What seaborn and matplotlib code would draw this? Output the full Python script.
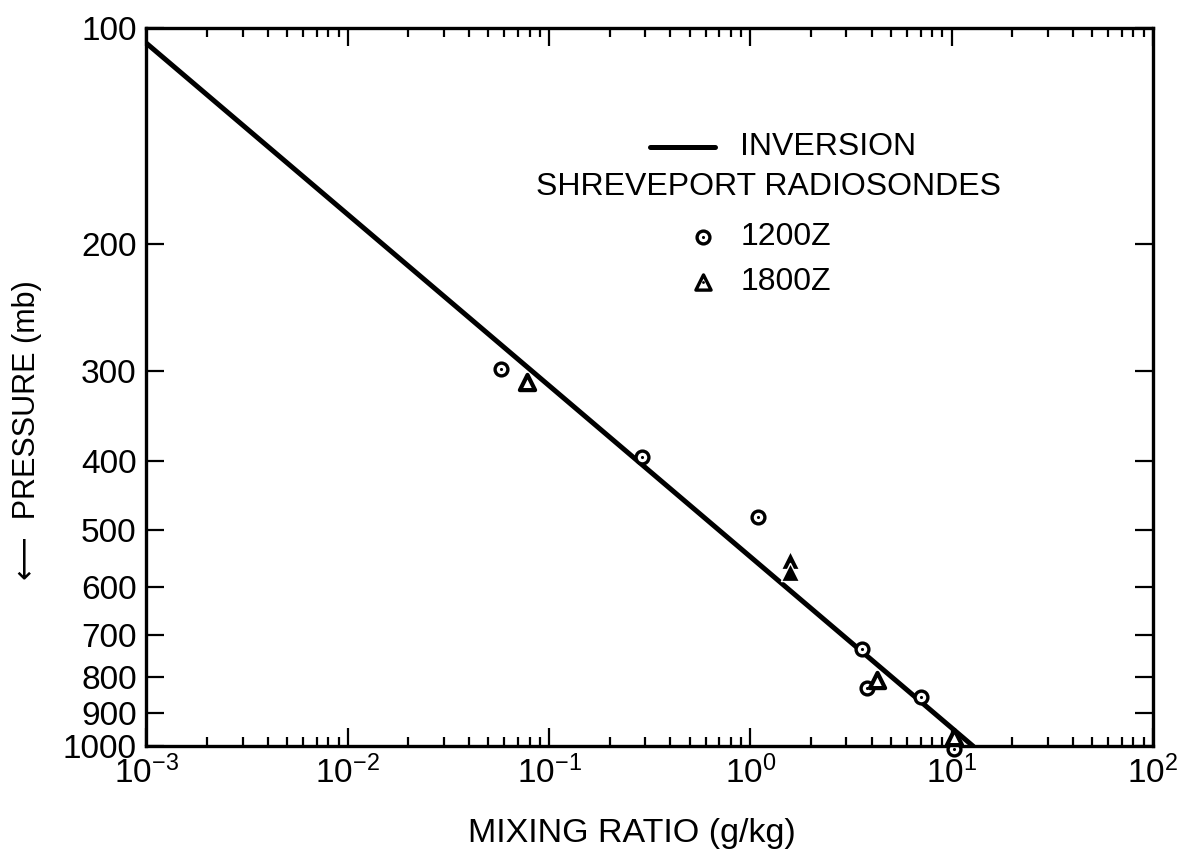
import matplotlib
matplotlib.use("Agg")
import matplotlib.pyplot as plt
import seaborn as sns
import numpy as np
import pandas as pd
from matplotlib.ticker import FixedLocator, NullFormatter, LogLocator

# ---- data ----
inv_x = [1e-3, 12.8]          # inversion line (g/kg)
inv_p = [105, 1000]           # mb

r1200_x = [0.058, 0.29, 1.09, 3.6, 3.8, 7.0, 10.3]
r1200_p = [298, 396, 479, 731, 830, 855, 1010]

r1800_open_x = [0.078, 4.26, 10.3]
r1800_open_p = [311, 809, 972]
r1800_solid_x = [1.58, 1.58]
r1800_solid_p = [550, 571]

y_ticks = [100, 200, 300, 400, 500, 600, 700, 800, 900, 1000]
y_ticklabels = ["100", "200", "300", "400", "500", "600", "700", "800", "900", "1000"]
x_ticks = [1e-3, 1e-2, 1e-1, 1e0, 1e1, 1e2]
x_ticklabels = ["$10^{-3}$", "$10^{-2}$", "$10^{-1}$", "$10^{0}$", "$10^{1}$", "$10^{2}$"]

sns.set_theme(style="ticks")
FAM = ["Liberation Sans", "DejaVu Sans"]
plt.rcParams["font.family"] = FAM
plt.rcParams["mathtext.default"] = "regular"
for k in ["text.color", "axes.labelcolor", "xtick.color", "ytick.color",
          "axes.edgecolor"]:
    plt.rcParams[k] = "black"

fig = plt.figure(figsize=(11.85, 8.51), dpi=100)
ax = fig.add_axes([0.1236, 0.123, 0.8494, 0.844])

inv_df = pd.DataFrame({"x": inv_x, "p": inv_p})
sns.lineplot(data=inv_df, x="x", y="p", ax=ax, color="black", lw=3.6,
             sort=False, estimator=None, zorder=3)

d1200 = pd.DataFrame({"x": r1200_x, "p": r1200_p})
sns.scatterplot(data=d1200, x="x", y="p", ax=ax, marker="o", s=85,
                facecolor="white", edgecolor="black", linewidth=2.4,
                zorder=4, clip_on=False)
sns.scatterplot(data=d1200, x="x", y="p", ax=ax, marker="o", s=5,
                color="black", linewidth=0, zorder=5, clip_on=False)

d18o = pd.DataFrame({"x": r1800_open_x, "p": r1800_open_p})
sns.scatterplot(data=d18o, x="x", y="p", ax=ax, marker="^", s=120,
                facecolor="white", edgecolor="black", linewidth=3.0,
                zorder=4, clip_on=False)
d18s = pd.DataFrame({"x": r1800_solid_x, "p": r1800_solid_p})
sns.scatterplot(data=d18s, x="x", y="p", ax=ax, marker="^", s=170,
                color="black", linewidth=1, zorder=4, clip_on=False)

ax.set_xscale("log")
ax.set_yscale("log")
ax.set_xlim(1e-3, 1e2)
ax.set_ylim(1000, 100)

ax.xaxis.set_major_locator(FixedLocator(x_ticks))
ax.set_xticklabels(x_ticklabels)
ax.xaxis.set_minor_locator(LogLocator(base=10, subs=np.arange(2, 10)))
ax.xaxis.set_minor_formatter(NullFormatter())
ax.yaxis.set_major_locator(FixedLocator(y_ticks))
ax.set_yticklabels(y_ticklabels)
ax.yaxis.set_minor_locator(FixedLocator([]))
ax.yaxis.set_minor_formatter(NullFormatter())

ax.tick_params(which="both", direction="in", top=True, right=True,
               width=1.6, color="black", labelcolor="black")
ax.tick_params(which="major", length=13, labelsize=24, pad=7)
ax.tick_params(which="minor", length=6.5)
for s in ax.spines.values():
    s.set_linewidth(2.4)
    s.set_color("black")

ax.set_xlabel("MIXING RATIO (g/kg)", fontsize=24.5, color="black")
ax.xaxis.set_label_coords(0.482, -0.10)
ax.set_ylabel("\u27f5  PRESSURE (mb)", fontsize=22, color="black",
              family=["Liberation Sans", "DejaVu Sans"])
ax.yaxis.set_label_coords(-0.104, 0.44)

# ---- legend ----
tr = ax.transAxes
ax.plot([0.500, 0.565], [0.834, 0.834], color="black", lw=3.6, transform=tr)
ax.text(0.590, 0.834, "INVERSION", transform=tr, fontsize=23,
        va="center", ha="left")
ax.text(0.6175, 0.7786, "SHREVEPORT RADIOSONDES", transform=tr, fontsize=23,
        va="center", ha="center")
ax.scatter([0.553], [0.709], transform=tr, marker="o", s=85,
           facecolor="white", edgecolor="black", linewidth=2.4, zorder=5)
ax.scatter([0.553], [0.709], transform=tr, marker="o", s=5, color="black",
           linewidth=0, zorder=6)
ax.text(0.590, 0.709, "1200Z", transform=tr, fontsize=23,
        va="center", ha="left")
ax.scatter([0.553], [0.646], transform=tr, marker="^", s=120,
           facecolor="white", edgecolor="black", linewidth=2.4, zorder=5)
ax.scatter([0.553], [0.646], transform=tr, marker="o", s=4, color="black",
           linewidth=0, zorder=6)
ax.text(0.590, 0.646, "1800Z", transform=tr, fontsize=23,
        va="center", ha="left")

fig.savefig("out.png", dpi=100, facecolor="white")
